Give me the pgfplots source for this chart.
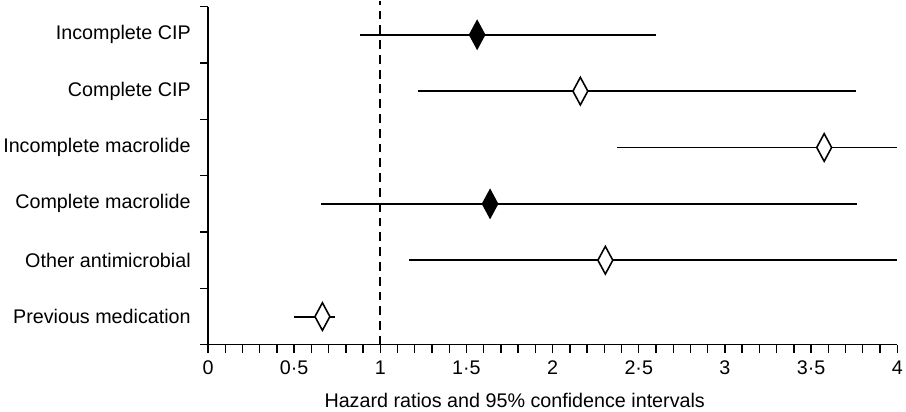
\documentclass[border=0pt]{standalone}
\usepackage{fontspec}
\setmainfont{Liberation Sans}
\usepackage{pgfplots}
\usepackage{pgfplotstable}
\pgfplotsset{compat=1.18}

% row: 6 = top. hr = hazard ratio, lo/hi = 95% CI
\pgfplotstableread{
row hr lo hi
6 1.562 0.880 2.600
3 1.637 0.658 3.765
}\filledtab
\pgfplotstableread{
row hr lo hi
5 2.161 1.220 3.763
4 3.576 2.375 4.000
2 2.306 1.169 4.000
1 0.664 0.498 0.738
}\opentab

\begin{document}
\begin{tikzpicture}
\begin{axis}[
    scale only axis,
    width=699pt, height=343pt,
    xmin=0, xmax=4, ymin=0.5, ymax=6.5,
    axis x line*=bottom, axis y line*=left,
    axis line style={-, line width=1.4pt, black},
    xtick={0,0.5,...,4},
    xticklabels={0,0·5,1,1·5,2,2·5,3,3·5,4},
    xticklabel style={yshift=-5pt},
    minor x tick num=4,
    ytick={0.5,1.5,...,6.5},
    yticklabels={},
    extra y ticks={1,2,3,4,5,6},
    extra y tick labels={Previous medication,Other antimicrobial,Complete macrolide,Incomplete macrolide,Complete CIP,Incomplete CIP},
    extra y tick style={major tick length=0pt, yticklabel style={xshift=-14pt}},
    tick align=outside,
    major tick length=8pt, minor tick length=8pt,
    tick style={line width=1.4pt, black},
    every tick label/.append style={font=\fontsize{20}{24}\selectfont},
    label style={font=\fontsize{20}{24}\selectfont},
    xlabel={Hazard ratios and 95\% confidence intervals},
    xlabel style={at={(axis description cs:0.445,0)}, anchor=north, yshift=-46pt},
    clip=false,
]
% reference line at HR = 1
\addplot[black, line width=1.9pt, dash pattern=on 9pt off 6pt] coordinates {(1,0.5)(1,6.6)};

% confidence intervals
\addplot[draw=none, mark=none, error bars/.cd, x dir=both, x explicit, error mark=none,
    error bar style={draw=black, line width=1.9pt}]
    table[x=hr, y=row, x error plus expr=\thisrow{hi}-\thisrow{hr}, x error minus expr=\thisrow{hr}-\thisrow{lo}] {\filledtab};
\addplot[draw=none, mark=none, error bars/.cd, x dir=both, x explicit, error mark=none,
    error bar style={draw=black, line width=1.9pt}]
    table[x=hr, y=row, x error plus expr=\thisrow{hi}-\thisrow{hr}, x error minus expr=\thisrow{hr}-\thisrow{lo}] {\opentab};

% point estimates
\addplot[only marks, mark=diamond*, mark size=14pt,
    mark options={xscale=0.72, draw=black, fill=black, line width=1.6pt}]
    table[x=hr, y=row] {\filledtab};
\addplot[only marks, mark=diamond*, mark size=14pt,
    mark options={xscale=0.72, draw=black, fill=white, line width=1.6pt}]
    table[x=hr, y=row] {\opentab};
\end{axis}
\end{tikzpicture}
\end{document}
